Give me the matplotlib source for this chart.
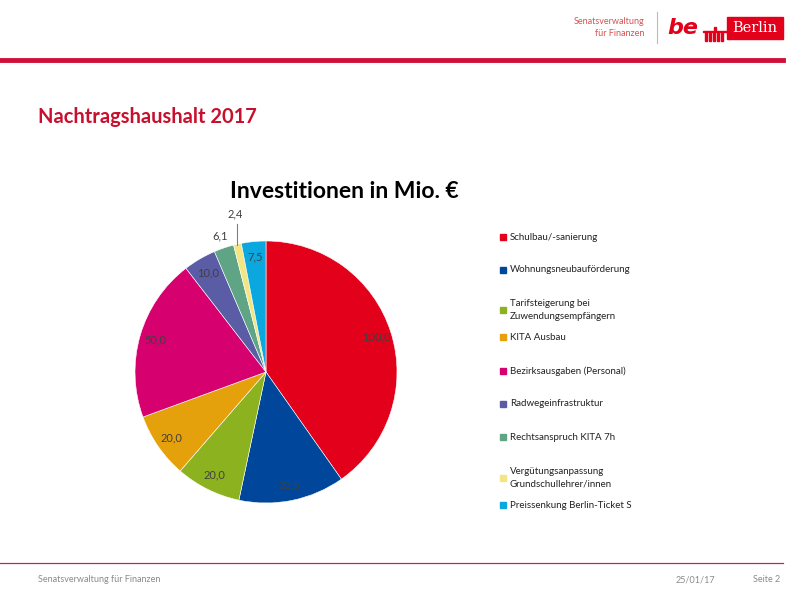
import numpy as np
import matplotlib
matplotlib.use("Agg")
import matplotlib.pyplot as plt
from matplotlib.patches import Rectangle

plt.rcParams['font.family'] = ['Lato', 'DejaVu Sans']

categories = ["Schulbau/-sanierung", "Wohnungsneubauförderung",
              "Tarifsteigerung bei\nZuwendungsempfängern", "KITA Ausbau",
              "Bezirksausgaben (Personal)", "Radwegeinfrastruktur",
              "Rechtsanspruch KITA 7h",
              "Vergütungsanpassung\nGrundschullehrer/innen",
              "Preissenkung Berlin-Ticket S"]
values = [100.0, 32.5, 20.0, 20.0, 50.0, 10.0, 6.1, 2.4, 7.5]
colors = ["#e2001a", "#00479b", "#8db220", "#e4a10c", "#d6016e",
          "#5a5ca6", "#5fa585", "#f2e684", "#0ba7df"]
labels = ["100,0", "32,5", "20,0", "20,0", "50,0", "10,0", "6,1", "2,4", "7,5"]

W, H = 800, 600
fig = plt.figure(figsize=(8, 6), dpi=100)
fig.patch.set_facecolor("white")

def fx(x): return x / W
def fy(y): return 1 - y / H

RED = "#d0103a"
# header line
fig.add_artist(plt.Line2D([0, fx(783)], [fy(60), fy(60)], color=RED, lw=3.5, transform=fig.transFigure))
# logo
fig.text(fx(644), fy(22), "Senatsverwaltung", color="#d9534f", fontsize=6.5, ha="right", va="center")
fig.text(fx(644), fy(34), "für Finanzen", color="#d9534f", fontsize=6.5, ha="right", va="center")
fig.add_artist(plt.Line2D([fx(657), fx(657)], [fy(12), fy(43)], color="#bbbbbb", lw=0.8, transform=fig.transFigure))
fig.text(fx(667), fy(28), "be", color="#e2001a", fontsize=16, fontweight="bold", fontstyle="italic",
         ha="left", va="center", family=["DejaVu Sans"])
# gate icon
for i in range(5):
    fig.add_artist(Rectangle((fx(705 + i * 4), fy(41)), fx(1.8), 8 / H, color="#e2001a", transform=fig.transFigure))
fig.add_artist(Rectangle((fx(703), fy(32)), fx(24), 1.5 / H, color="#e2001a", transform=fig.transFigure))
fig.add_artist(Rectangle((fx(714), fy(30)), fx(2), 3 / H, color="#e2001a", transform=fig.transFigure))
fig.add_artist(Rectangle((fx(727), fy(39)), fx(56), 22 / H, color="#e2001a", transform=fig.transFigure))
fig.text(fx(755), fy(28), "Berlin", color="white", fontsize=10.5, ha="center", va="center",
         family=["DejaVu Serif"])

# slide title
fig.text(fx(38), fy(117), "Nachtragshaushalt 2017", color="#c8102e", fontsize=14.5,
         fontweight="bold", ha="left", va="center")

# chart title
fig.text(fx(344), fy(191), "Investitionen in Mio. €", color="black", fontsize=16.5,
         fontweight="bold", ha="center", va="center")

# pie
cx, cy, r = 266, 372, 131
ax = fig.add_axes([fx(cx - r), fy(cy + r), 2 * r / W, 2 * r / H])
wedges, _ = ax.pie(values, colors=colors, startangle=90, counterclock=False,
                   wedgeprops=dict(edgecolor="white", linewidth=0.4), radius=1.0)
ax.set_xlim(-1, 1); ax.set_ylim(-1, 1)
ax.set_aspect("equal")
ax.axis("off")

total = sum(values)
cum = np.cumsum([0] + values[:-1])
for i, (v, c0) in enumerate(zip(values, cum)):
    mid = (c0 + v / 2) / total * 2 * np.pi
    ux, uy = np.sin(mid), np.cos(mid)
    if i == 7:
        lx, ly = ux - 0.02, 1.21
        ax.plot([ux, ux], [1.13, 0.99 * uy], color="#7f7f7f", lw=0.8, clip_on=False)
        ax.text(lx, ly, labels[i], ha="center", va="center", fontsize=8, color="#404040")
    elif i == 6:
        ax.text(ux * 1.1, uy * 1.1, labels[i], ha="center", va="center", fontsize=8, color="#404040")
    else:
        ax.text(ux * 0.88, uy * 0.88, labels[i], ha="center", va="center", fontsize=8, color="#404040")

# legend
leg_y = [237, 270, 310, 337, 371, 404, 437, 478, 505]
for cat, col, y in zip(categories, colors, leg_y):
    fig.add_artist(Rectangle((fx(500), fy(y + 3)), fx(6), 6 / H, color=col, transform=fig.transFigure))
    fig.text(fx(510), fy(y), cat, fontsize=7, color="#222222", ha="left", va="center", linespacing=1.55)

# footer
fig.add_artist(plt.Line2D([0, fx(783)], [fy(563), fy(563)], color="#b03050", lw=0.9, transform=fig.transFigure))
fig.text(fx(38), fy(580), "Senatsverwaltung für Finanzen", fontsize=6.5, color="#8a8a8a", ha="left", va="center")
fig.text(fx(676), fy(580), "25/01/17", fontsize=6.5, color="#8a8a8a", ha="left", va="center")
fig.text(fx(753), fy(580), "Seite 2", fontsize=6.5, color="#8a8a8a", ha="left", va="center")

fig.savefig("out.png", dpi=100)
